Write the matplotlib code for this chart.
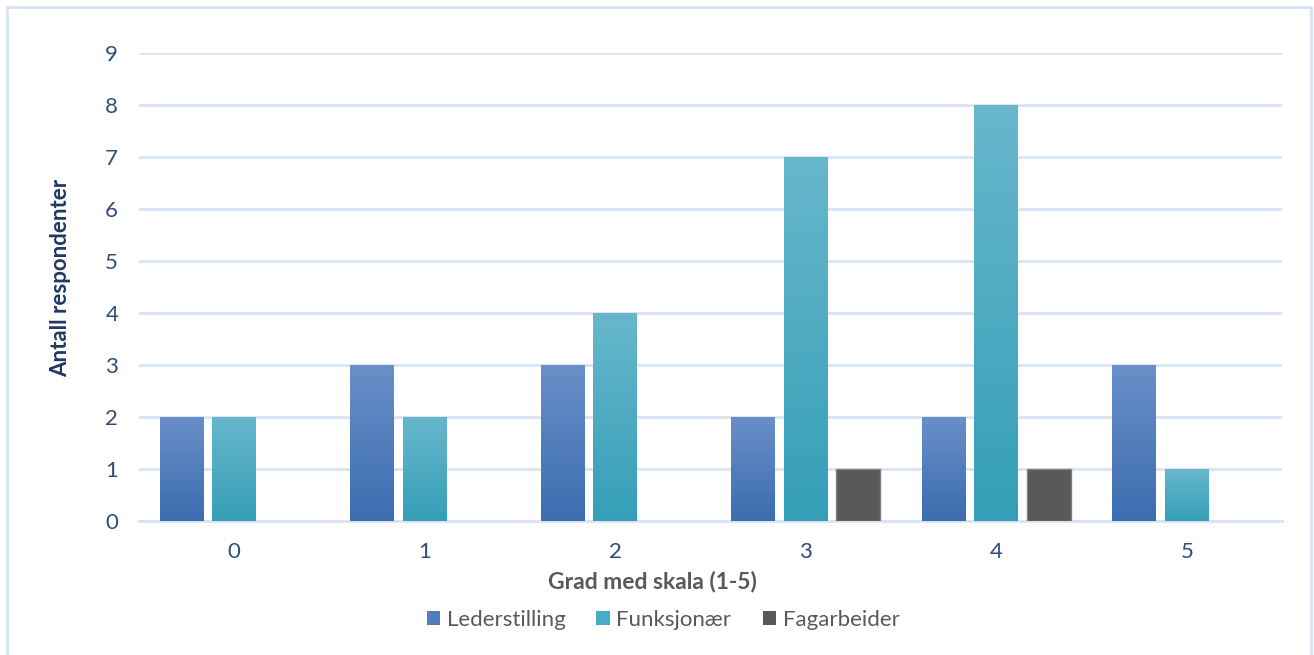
import numpy as np
import matplotlib
matplotlib.use("Agg")
import matplotlib.pyplot as plt
from matplotlib.patches import Rectangle, Patch
from matplotlib.colors import LinearSegmentedColormap

plt.rcParams['font.family'] = ['Lato', 'DejaVu Sans']

categories = ['0', '1', '2', '3', '4', '5']
series_names = ['Lederstilling', 'Funksjonær', 'Fagarbeider']
lederstilling = [2, 3, 3, 2, 2, 3]
funksjonaer = [2, 2, 4, 7, 8, 1]
fagarbeider = [0, 0, 0, 1, 1, 0]
y_ticks = [0, 1, 2, 3, 4, 5, 6, 7, 8, 9]

series_values = [lederstilling, funksjonaer, fagarbeider]
# (top colour, bottom colour) for the vertical gradient fill of each series
gradients = [
    ('#6a8fc8', '#3b6db0'),
    ('#68b7cc', '#349fb8'),
    ('#5a5a5a', '#595959'),
]
legend_colors = ['#4f7dbd', '#46adc6', '#595959']
edge_colors = [None, None, '#808080']

W, H = 1314, 655
fig = plt.figure(figsize=(W / 100, H / 100), dpi=100)
ax = fig.add_axes([139 / W, 1 - 521 / H, (1282 - 139) / W, (521 - 53) / H])

x = np.arange(len(categories))
width = 0.23
offsets = [-0.275, 0.0, 0.275]

grad = np.linspace(0, 1, 256).reshape(-1, 1)
for vals, off, (top, bot), ec in zip(series_values, offsets, gradients, edge_colors):
    bars = ax.bar(x + off, vals, width, color='none', edgecolor='none', zorder=3)
    cmap = LinearSegmentedColormap.from_list('g', [bot, top])
    for b in bars:
        h = b.get_height()
        if h <= 0:
            continue
        x0 = b.get_x()
        im = ax.imshow(grad, cmap=cmap, origin='lower', aspect='auto',
                       extent=[x0, x0 + b.get_width(), 0, h], zorder=3,
                       interpolation='bilinear')
        im.set_clip_path(b)
        if ec:
            ax.add_patch(Rectangle((x0, 0), b.get_width(), h, fill=False,
                                   edgecolor=ec, linewidth=1.0, zorder=4))

ax.set_xlim(-0.5, len(categories) - 0.5)
ax.set_ylim(0, 9)
ax.set_yticks(y_ticks)
ax.set_xticks(x)
ax.set_xticklabels(categories)

grid_color = '#d9e4f3'
ax.yaxis.grid(True, color=grid_color, linewidth=2.0, zorder=0)
ax.set_axisbelow(True)
for s in ['top', 'right', 'left']:
    ax.spines[s].set_visible(False)
ax.spines['bottom'].set_color(grid_color)
ax.spines['bottom'].set_linewidth(2.0)
ax.spines['bottom'].set_zorder(2)

tick_color = '#2f4d7a'
ax.tick_params(axis='both', length=0, labelsize=16, colors=tick_color)
ax.tick_params(axis='y', pad=15)
ax.tick_params(axis='x', pad=15)

ax.set_ylabel('Antall respondenter', fontsize=16, fontweight='bold',
              color='#1f3864', va='center')
ax.yaxis.set_label_coords(-0.069, 0.52)
ax.set_xlabel('Grad med skala (1-5)', fontsize=16.5, fontweight='bold',
              color='#595959', va='center')
ax.xaxis.set_label_coords(0.449, -0.130)

handles = [Patch(facecolor=c, edgecolor='none') for c in legend_colors]
fig.legend(handles, series_names, loc='center', bbox_to_anchor=(663 / W, 1 - 620 / H),
           ncol=3, frameon=False, fontsize=16, handlelength=0.6, handleheight=0.6,
           handletextpad=0.3, columnspacing=1.4, labelcolor='#595959')

fig.add_artist(Rectangle((7 / W, -0.01), (1311 - 7) / W, 1 - 7 / H + 0.01,
                         transform=fig.transFigure, fill=False,
                         edgecolor='#d6e2f2', linewidth=2.0))

fig.savefig('out.png', dpi=100)
